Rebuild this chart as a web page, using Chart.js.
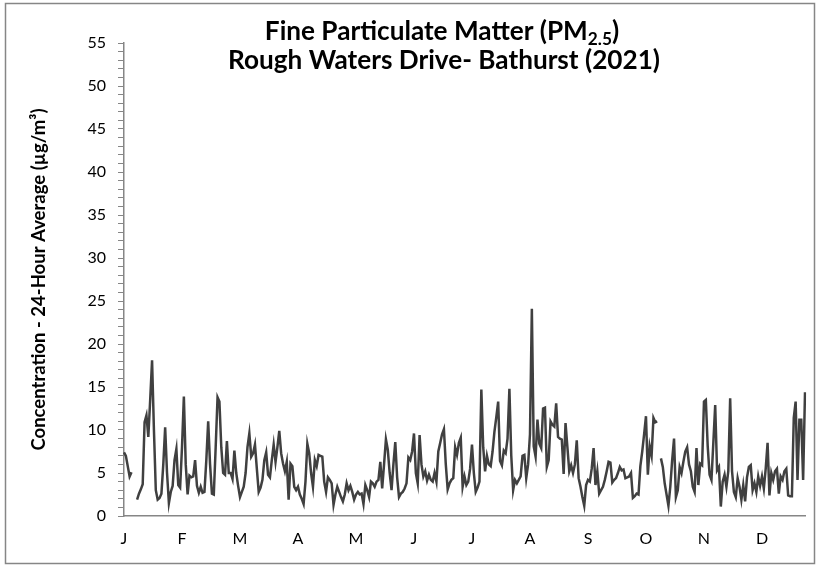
<!DOCTYPE html>
<html>
<head>
<meta charset="utf-8">
<title>PM2.5 - Rough Waters Drive</title>
<script src="https://cdn.jsdelivr.net/npm/chart.js@4.4.1/dist/chart.umd.min.js"></script>
<style>
    html, body { margin: 0; padding: 0; background: #ffffff; }
    canvas { display: block; }
</style>
</head>
<body>
<canvas id="chart-pm25" width="818" height="566"></canvas>
<script>
// ================= VERİLER =================
const year = 2021;
const monthLetters = ['J', 'F', 'M', 'A', 'M', 'J', 'J', 'A', 'S', 'O', 'N', 'D'];
const yTicks = [0, 5, 10, 15, 20, 25, 30, 35, 40, 45, 50, 55];
const labelEvery = 31; // Excel eksen etiket aralığı (gün)

// Günlük 24 saat ortalaması (µg/m³), null = ölçüm yok
const jan = [7.4, 7.0, 5.8, 4.6, 5.1, null, null, 1.9, 2.6, 3.1, 3.7, 10.9, 11.7, 9.2, 13.5, 18.1, 10.0, 3.0, 1.9, 2.1, 2.6, 6.0, 10.3, 5.0, 1.5, 2.8, 3.5, 6.5, 7.8, 3.6, 3.3];
const feb = [8.0, 13.9, 6.0, 2.5, 4.7, 4.5, 4.6, 6.5, 3.5, 2.7, 3.4, 2.7, 2.8, 6.5, 11.0, 6.0, 2.6, 2.5, 8.0, 13.8, 13.3, 8.0, 5.0, 4.8, 8.7, 5.0, 5.0, 4.3];
const mar = [7.6, 5.0, 3.5, 2.2, 2.8, 3.4, 5.0, 8.0, 9.6, 6.9, 7.3, 8.3, 5.5, 2.8, 3.3, 4.2, 6.5, 7.4, 4.8, 4.5, 6.5, 8.3, 6.3, 8.0, 9.9, 7.3, 6.1, 5.2, 6.3, 1.9, 6.1];
const apr = [5.8, 3.4, 3.0, 3.4, 2.5, 2.0, 1.4, 4.0, 8.4, 7.3, 5.0, 3.4, 6.5, 5.8, 7.1, 7.0, 6.9, 4.0, 2.8, 4.5, 4.2, 3.8, 1.3, 2.5, 3.4, 2.8, 2.2, 1.7, 2.5, 3.8];
const may = [3.0, 3.5, 2.8, 1.9, 2.5, 2.8, 2.5, 2.6, 1.4, 3.6, 3.0, 2.2, 4.0, 3.8, 3.4, 4.0, 4.2, 6.3, 3.2, 6.0, 8.9, 7.7, 5.0, 3.0, 6.0, 8.6, 4.5, 2.2, 2.6, 2.8, 3.2];
const jun = [3.8, 6.8, 6.5, 7.5, 9.6, 5.0, 3.8, 9.4, 6.0, 4.6, 5.2, 4.1, 4.8, 4.2, 4.0, 5.0, 4.0, 7.5, 8.5, 9.5, 10.1, 6.0, 3.1, 3.8, 4.2, 4.4, 8.0, 7.1, 8.5, 9.1];
const jul = [3.4, 4.6, 3.6, 4.0, 5.5, 8.3, 5.0, 2.8, 3.3, 4.0, 14.7, 8.0, 5.2, 7.0, 6.0, 5.8, 7.5, 9.8, 11.5, 13.3, 6.4, 5.9, 7.6, 7.3, 9.0, 14.8, 7.0, 3.0, 4.2, 3.8, 4.2];
const aug = [4.6, 7.0, 7.1, 4.4, 6.0, 9.5, 24.1, 8.1, 6.9, 11.2, 8.4, 7.9, 12.5, 12.6, 5.7, 6.5, 11.0, 10.6, 10.4, 13.1, 9.2, 9.0, 8.9, 4.9, 10.8, 8.0, 5.2, 5.9, 5.0, 6.0, 8.8];
const sep = [4.4, 3.4, 2.2, 1.2, 3.6, 4.2, 4.0, 5.5, 7.9, 3.6, 5.2, 2.6, 3.0, 3.4, 4.2, 5.2, 6.3, 6.2, 3.9, 4.2, 4.4, 5.0, 5.7, 5.3, 5.4, 4.4, 4.5, 4.6, 5.0, 2.1];
const oct = [2.3, 2.6, 2.5, 5.8, 7.5, 9.5, 11.6, 4.8, 8.1, 7.0, 11.4, 10.9, 11.0, null, 6.7, 5.7, 3.8, 2.5, 1.2, 3.4, 6.5, 9.0, 2.2, 3.0, 5.7, 5.0, 6.3, 7.5, 8.0, 6.0, 5.2];
const nov = [3.4, 2.8, 7.9, 3.6, 6.1, 5.9, 13.3, 13.5, 8.1, 4.8, 4.2, 8.5, 12.9, 5.3, 5.7, 1.1, 4.0, 4.8, 3.4, 5.2, 13.7, 5.2, 2.8, 2.2, 4.4, 3.4, 1.9, 3.6, 1.7, 4.5];
const dec = [5.7, 5.9, 3.0, 3.8, 2.8, 4.6, 3.5, 4.6, 3.2, 5.5, 8.5, 2.4, 5.0, 4.2, 5.2, 5.5, 2.6, 4.6, 4.2, 5.2, 5.5, 2.4, 2.3, 2.3, 11.4, 13.3, 4.2, 11.2, 11.2, 4.2, 14.4];

const titleLine1 = ['Fine Particulate Matter (PM', '2.5', ')'];
const titleLine2 = 'Rough Waters Drive- Bathurst (2021)';
const yTitle = 'Concentration - 24-Hour Average (µg/m³)';

const pm25 = [].concat(jan, feb, mar, apr, may, jun, jul, aug, sep, oct, nov, dec);
const dayDates = pm25.map((v, i) => new Date(year, 0, 1 + i));
const dayLabels = dayDates.map(d => d.toISOString().slice(0, 10));

// ================= BAŞLIKLAR + ÇERÇEVE =================
const FONT = 'Lato, "Open Sans", sans-serif';

function fitSize(ctx, text, width) {
    ctx.font = 'bold 20px ' + FONT;
    return 20 * width / ctx.measureText(text).width;
}

const frameAndTitles = {
    id: 'frameAndTitles',
    beforeDraw(chart) {
        const ctx = chart.ctx;
        ctx.save();
        ctx.fillStyle = '#ffffff';
        ctx.fillRect(0, 0, chart.width, chart.height);
        ctx.strokeStyle = '#868686';
        ctx.lineWidth = 1.5;
        ctx.strokeRect(5.5, 3.5, 809, 560);
        ctx.restore();
    },
    afterDraw(chart) {
        const ctx = chart.ctx;
        ctx.save();
        ctx.fillStyle = '#000000';
        ctx.textBaseline = 'alphabetic';

        // Başlık 2. satır genişliğe göre boyutlanır, 1. satır aynı boyutu kullanır
        const size = fitSize(ctx, titleLine2, 432);
        const big = 'bold ' + size.toFixed(2) + 'px ' + FONT;
        const small = 'bold ' + (size * 0.66).toFixed(2) + 'px ' + FONT;

        ctx.font = big;
        const w0 = ctx.measureText(titleLine1[0]).width;
        const w2 = ctx.measureText(titleLine1[2]).width;
        ctx.font = small;
        const w1 = ctx.measureText(titleLine1[1]).width;
        let x = 442 - (w0 + w1 + w2) / 2;
        ctx.textAlign = 'left';
        ctx.font = big;
        ctx.fillText(titleLine1[0], x, 40);
        x += w0;
        ctx.font = small;
        ctx.fillText(titleLine1[1], x, 45);
        x += w1;
        ctx.font = big;
        ctx.fillText(titleLine1[2], x, 40);

        ctx.textAlign = 'center';
        ctx.fillText(titleLine2, 444, 69);

        // Y ekseni başlığı (çizim alanına ortalı)
        const area = chart.chartArea;
        ctx.font = 'bold 18.5px ' + FONT;
        const ySx = Math.min(1, 360 / ctx.measureText(yTitle).width);
        ctx.translate(45, (area.top + area.bottom) / 2);
        ctx.rotate(-Math.PI / 2);
        ctx.scale(ySx, 1);
        ctx.textAlign = 'center';
        ctx.fillText(yTitle, 0, 0);
        ctx.restore();
    }
};

// ================= GRAFİK =================
const ctx = document.getElementById('chart-pm25').getContext('2d');
const pmChart = new Chart(ctx, {
    type: 'line',
    data: {
        labels: dayLabels,
        datasets: [{
            data: pm25,
            borderColor: '#404040',
            borderWidth: 2.5,
            tension: 0,
            pointRadius: 0,
            spanGaps: false,
            fill: false
        }]
    },
    options: {
        responsive: false,
        animation: false,
        layout: { padding: { left: 0, right: 8, top: 43, bottom: 0 } },
        plugins: { legend: { display: false }, title: { display: false }, tooltip: { enabled: false } },
        scales: {
            x: {
                type: 'category',
                offset: false,
                grid: { display: false, drawTicks: false },
                border: { display: true, color: '#868686', width: 1.5 },
                ticks: {
                    autoSkip: false,
                    maxRotation: 0,
                    padding: 13,
                    color: '#000000',
                    font: { family: FONT, size: 16 },
                    callback: (value, index) => index % labelEvery === 0 ? monthLetters[dayDates[index].getMonth()] : ''
                },
                afterFit: scale => { scale.height = 50; }
            },
            y: {
                min: yTicks[0],
                max: yTicks[yTicks.length - 1],
                grid: { drawOnChartArea: false, drawTicks: true, tickLength: 6, color: '#868686', lineWidth: 1 },
                border: { display: true, color: '#868686', width: 1.5 },
                ticks: {
                    stepSize: 1,
                    maxTicksLimit: 100,
                    autoSkip: false,
                    padding: 12,
                    color: '#000000',
                    font: { family: FONT, size: 16 },
                    callback: value => yTicks.includes(value) ? value : ''
                },
                afterFit: scale => { scale.width = 124; }
            }
        }
    },
    plugins: [frameAndTitles]
});
</script>
</body>
</html>
